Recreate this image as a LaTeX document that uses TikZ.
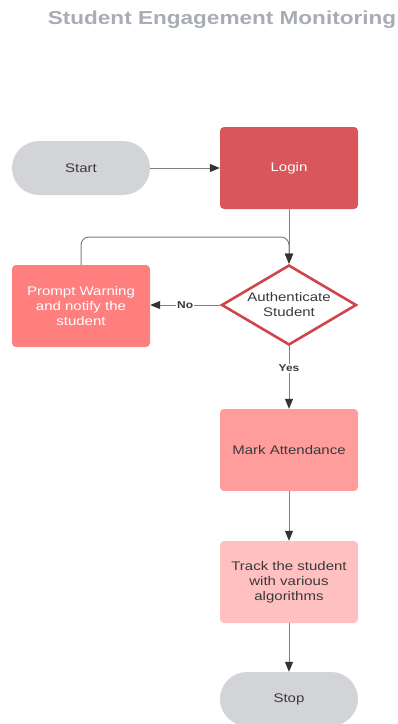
\documentclass[tikz,border=0pt]{standalone}
\usepackage{fontspec}
\setmainfont[FakeStretch=1.2]{Liberation Sans}
\usetikzlibrary{arrows.meta, shapes.geometric}
\definecolor{termgray}{HTML}{D3D4D7}
\definecolor{loginred}{HTML}{D9575A}
\definecolor{warnred}{HTML}{FF7F7F}
\definecolor{markred}{HTML}{FF9D9D}
\definecolor{trackred}{HTML}{FFC0C0}
\definecolor{diamred}{HTML}{D0454A}
\definecolor{titlegray}{HTML}{A8ACB5}
\definecolor{txtgray}{HTML}{3A3A3A}
\begin{document}
\begin{tikzpicture}[x=1pt, y=-1pt,
	every node/.style={font=\fontsize{12.5}{15}\selectfont, text=txtgray},
	term/.style={rectangle, rounded corners=27pt, fill=termgray, minimum width=138pt, minimum height=54pt},
	box/.style={rectangle, rounded corners=4pt, minimum width=138pt, minimum height=82pt, align=center},
	decide/.style={diamond, draw=diamred, line width=2.6pt, fill=white, aspect=1.7, inner sep=0pt,
		minimum width=135pt, minimum height=80pt, align=center},
	flow/.style={draw=black!50, line width=1pt, -{Triangle[length=10pt, width=8pt, color=black!80]}},
	lbl/.style={font=\fontsize{10}{12}\selectfont\bfseries, fill=white, inner sep=1pt}]
	\useasboundingbox (0,0) rectangle (397,724);
	\node[font=\fontsize{18.8}{22}\selectfont\bfseries, text=titlegray] (title) at (222,20) {Student Engagement Monitoring};
	\node[term] (start) at (81,168) {Start};
	\node[box, fill=loginred, text=white!95!pink] (login) at (289,168) {Login};
	\node[decide] (auth) at (289,305) {Authenticate\\Student};
	\node[box, fill=warnred, text=white] (warn) at (81,306) {Prompt Warning\\and notify the\\student};
	\node[box, fill=markred] (mark) at (289,450) {Mark Attendance};
	\node[box, fill=trackred] (track) at (289,582) {Track the student\\with various\\algorithms};
	\node[term] (stop) at (289,699) {Stop};

	\draw[flow] (start) -- (login);
	\draw[flow] (login) -- (auth);
	\draw[flow, rounded corners=8pt] (warn.north) |- (289,237) -- (auth.north);
	\draw[flow] (auth.west) -- node[lbl] {No} (warn.east |- auth.west);
	\draw[flow] (auth.south) -- node[lbl, pos=0.35] {Yes} (mark);
	\draw[flow] (mark) -- (track);
	\draw[flow] (track) -- (stop);
\end{tikzpicture}
\end{document}
